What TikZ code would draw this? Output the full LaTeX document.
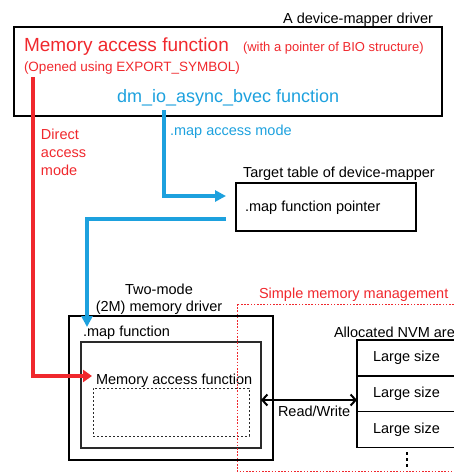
\documentclass[tikz,border=0pt]{standalone}
\usepackage{fontspec}
\setmainfont{Liberation Sans}
\usepackage{tikz}
\usetikzlibrary{arrows.meta,positioning}
\definecolor{Ink}{HTML}{000000}
\definecolor{Red}{HTML}{F0282D}
\definecolor{Sky}{HTML}{1DA1DE}
\definecolor{Edge}{HTML}{2A2A2A}
\tikzset{
  txt/.style={inner sep=0pt,outer sep=0pt,text=Ink},
  frame/.style={draw=Ink,line width=1.5pt,inner sep=0pt,outer sep=0pt},
  cell/.style={frame,minimum width=99pt,minimum height=35.7pt},
  redArrow/.style={-{Triangle[length=9pt,width=12pt]},line width=3.5pt,draw=Red},
  skyArrow/.style={-{Triangle[length=11pt,width=11pt]},line width=3.5pt,draw=Sky},
  rwArrow/.style={{Straight Barb[length=5pt,width=11pt]}-{Straight Barb[length=5pt,width=11pt]},line width=2pt,draw=Ink}
}

\begin{document}
\begin{tikzpicture}[x=1pt,y=-1pt,font=\fontsize{14.5}{17}\selectfont]
  \useasboundingbox (0,0) rectangle (454,472);

  % device-mapper driver
  \node[frame,minimum width=428pt,minimum height=89pt] (dmdrv) at (228,71.5) {};
  \node[txt,anchor=base east] (dmlbl) at (433,23) {A device-mapper driver};
  \node[txt,anchor=base west,text=Red,font=\fontsize{19}{21}\selectfont] (memfn) at (24,51) {Memory access function};
  \node[txt,anchor=base west,text=Red,font=\fontsize{13}{15}\selectfont] (bio) at (243,51) {(with a pointer of BIO structure)};
  \node[txt,anchor=base west,text=Red,font=\fontsize{13.5}{16}\selectfont] (export) at (24,71) {(Opened using EXPORT\_SYMBOL)};
  \node[txt,anchor=base west,text=Sky,font=\fontsize{18}{20}\selectfont] (bvec) at (117,102) {dm\_io\_async\_bvec function};

  % target table
  \node[frame,minimum width=180pt,minimum height=48pt] (target) at (326,207) {};
  \node[txt,anchor=base west] (targetlbl) at (243,177) {Target table of device-mapper};
  \node[txt,anchor=base west] (mapptr) at (245,211) {.map function pointer};

  % two-mode memory driver
  \node[frame,line width=2pt,minimum width=204pt,minimum height=144pt] (twom) at (171,388) {};
  \node[txt,align=center,font=\fontsize{14.5}{17}\selectfont] (twomlbl) at (159,299) {Two-mode\\(2M) memory driver};
  \node[txt,anchor=base west] (mapfn) at (83,336) {.map function};
  \node[frame,draw=Edge,minimum width=180pt,minimum height=106pt] (mapbox) at (171,395) {};
  \node[txt,anchor=base west] (memacc) at (96,384) {Memory access function};
  \node[draw=Edge,line width=1pt,dash pattern=on 2pt off 2pt,inner sep=0pt,minimum width=156pt,minimum height=48pt] (accbox) at (171,412) {};

  % allocated NVM area
  \node[txt,anchor=base west] (nvmlbl) at (334,337) {Allocated NVM are};
  \node[cell] (nvm1) at (406.5,358) {Large size};
  \node[cell,below=0pt of nvm1] (nvm2) {Large size};
  \node[cell,below=0pt of nvm2] (nvm3) {Large size};
  \draw[line width=2pt,dash pattern=on 3pt off 3pt] ([yshift=-5pt]nvm3.south) -- ([yshift=-21pt]nvm3.south);

  % simple memory management
  \draw[Red,line width=1pt,dash pattern=on 1.6pt off 1.6pt] (237,304) rectangle (460,471);
  \node[txt,anchor=base west,text=Red] (smmlbl) at (259,298) {Simple memory management};

  % access paths
  \coordinate (redStart) at (33,77);
  \coordinate (redTurn) at (33,376);
  \coordinate (redEnd) at (92,376);
  \draw[redArrow] (redStart) -- (redTurn) -- (redEnd);
  \node[txt,anchor=north west,align=left,text=Red,font=\fontsize{14.5}{18}\selectfont] (direct) at (41,129) {Direct\\access\\mode};

  \coordinate (skyStart) at (164,110);
  \coordinate (skyTurn) at (164,196);
  \coordinate (skyEnd) at (226,196);
  \draw[skyArrow] (skyStart) -- (skyTurn) -- (skyEnd);
  \node[txt,anchor=base west,text=Sky] (mapmode) at (170,135) {.map access mode};

  \coordinate (ptrOut) at (226,219);
  \coordinate (ptrTurn) at (87,219);
  \coordinate (ptrEnd) at (87,327);
  \draw[skyArrow] (ptrOut) -- (ptrTurn) -- (ptrEnd);

  % read / write
  \coordinate (rwLeft) at (261,400);
  \coordinate (rwRight) at (357,400);
  \draw[rwArrow] (rwLeft) -- (rwRight);
  \node[txt,anchor=base west] (rwlbl) at (278,416) {Read/Write};
\end{tikzpicture}
\end{document}
